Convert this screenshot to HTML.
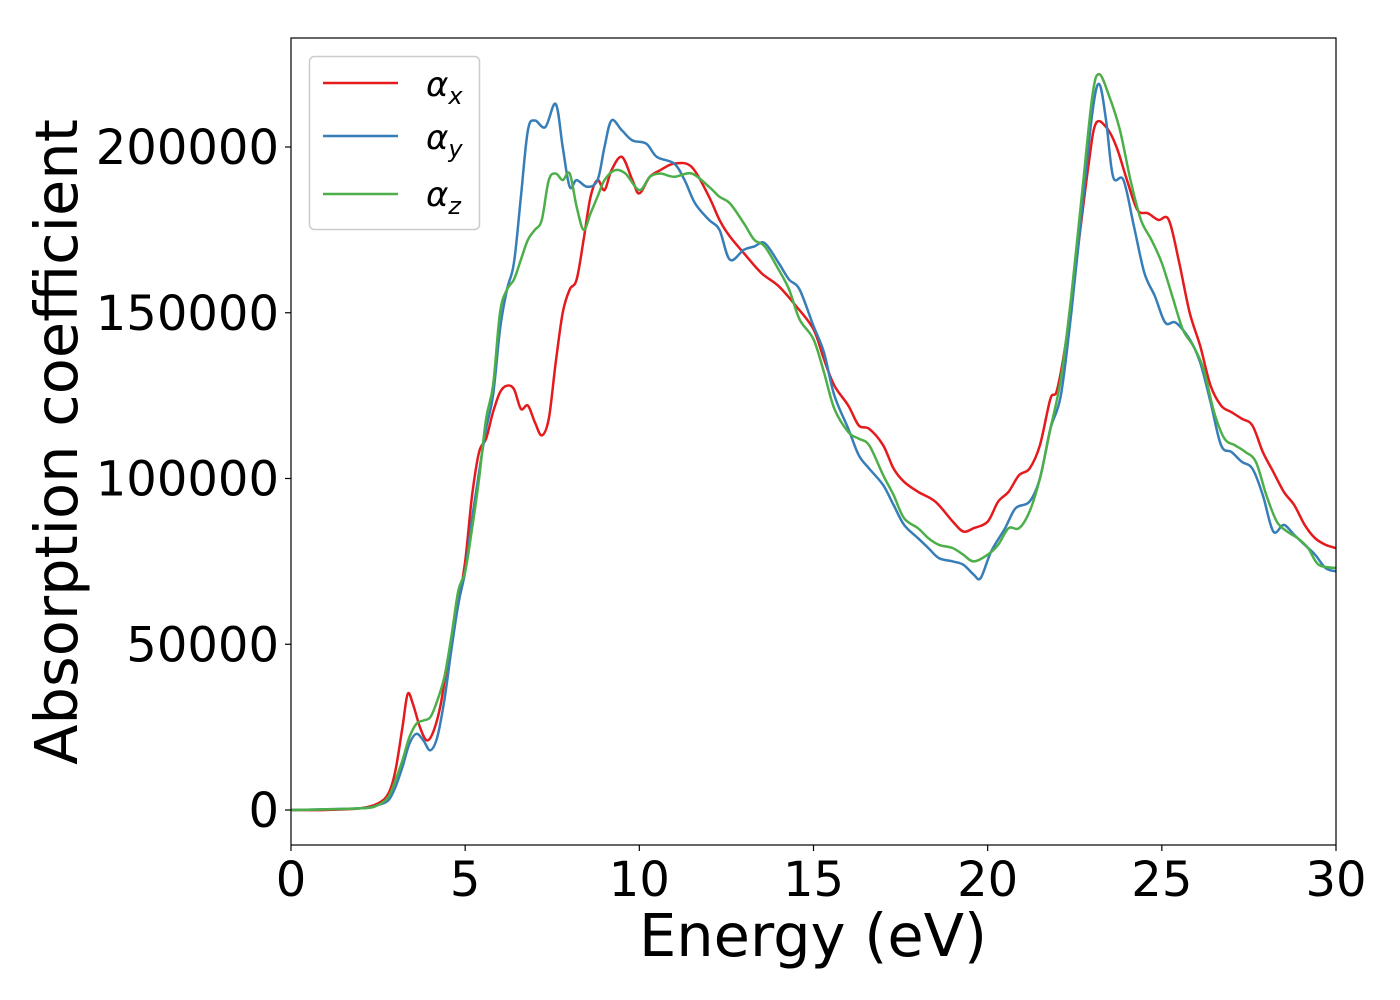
<!DOCTYPE html>
<html><head><meta charset="utf-8"><style>
html,body{margin:0;padding:0;background:#fff;}
svg{display:block;font-family:"DejaVu Sans","Liberation Sans",sans-serif;}
</style></head><body>
<svg id="chart" width="1400" height="1000" viewBox="0 0 1400 1000">
<rect x="0" y="0" width="1400" height="1000" fill="#fff"/>
<g id="plot"></g>
<g id="axes"></g>
<text x="813" y="956" font-size="59" text-anchor="middle" fill="#000">Energy (eV)</text>
<text x="0" y="0" font-size="59" text-anchor="middle" fill="#000" transform="translate(77,442) rotate(-90)">Absorption coefficient</text>
<g>
<rect x="309.5" y="56.5" width="170" height="173" rx="5" fill="#fff" fill-opacity="0.8" stroke="#ccc" stroke-width="1.5"/>
<line x1="323" y1="83" x2="398" y2="83" stroke="#e41a1c" stroke-width="2.5"/>
<text x="426" y="96" font-size="34" font-style="italic">α<tspan font-size="24" dy="8">x</tspan></text>
<line x1="323" y1="136" x2="398" y2="136" stroke="#377eb8" stroke-width="2.5"/>
<text x="426" y="149" font-size="34" font-style="italic">α<tspan font-size="24" dy="8">y</tspan></text>
<line x1="323" y1="194" x2="398" y2="194" stroke="#4daf4a" stroke-width="2.5"/>
<text x="426" y="206" font-size="34" font-style="italic">α<tspan font-size="24" dy="8">z</tspan></text>
</g>
</svg>
<script>
const xTicks=[0,5,10,15,20,25,30];
const yTicks=[0,50000,100000,150000,200000];
const xE=[0,1,2,2.5,2.8,3.0,3.2,3.35,3.5,3.7,3.9,4.1,4.3,4.5,4.8,5.0,5.2,5.4,5.6,5.8,6.0,6.2,6.4,6.6,6.8,7.0,7.2,7.4,7.6,7.8,8.0,8.2,8.4,8.6,8.8,9.0,9.2,9.5,9.8,10,10.3,10.6,11,11.5,12,12.3,12.6,13,13.5,14,14.5,15,15.3,15.6,16,16.3,16.6,17,17.3,17.6,18,18.5,19,19.3,19.6,20,20.3,20.6,20.9,21.2,21.5,21.8,22.0,22.3,22.6,22.9,23.1,23.4,23.7,24.0,24.3,24.6,24.9,25.2,25.5,25.8,26.1,26.4,26.7,27,27.3,27.6,27.9,28.2,28.5,28.8,29.1,29.4,29.7,30];
const xV=[0,0,0.5,2,5,12,25,35,32,25,21,24,32,45,62,75,95,108,112,120,126,128,127,121,122,117,113,118,135,150,157,160,172,185,190,187,193,197,190,186,191,193,195,194,185,178,173,168,162,158,152,145,136,128,122,116,115,110,103,99,96,93,87,84,85,87,93,96,101,103,110,124,127,145,170,195,207,206,200,190,181,180,178,178,165,150,140,128,122,120,118,116,108,102,96,92,86,82,80,79];
const yE=[0,2,2.5,2.8,3.0,3.2,3.4,3.6,3.8,4.0,4.2,4.4,4.6,4.8,5.0,5.2,5.4,5.6,5.8,6.0,6.2,6.4,6.6,6.8,7.0,7.3,7.6,7.8,8.0,8.2,8.5,8.8,9.0,9.2,9.5,9.8,10.2,10.5,11,11.3,11.6,12,12.3,12.6,13,13.3,13.6,14,14.3,14.6,15,15.3,15.6,16,16.3,16.6,17,17.3,17.6,18,18.3,18.6,19,19.3,19.6,19.8,20.1,20.5,20.8,21.2,21.5,21.8,22.1,22.4,22.7,23.0,23.2,23.4,23.6,23.9,24.2,24.5,24.8,25.1,25.4,25.8,26.1,26.4,26.7,27,27.3,27.6,27.9,28.2,28.5,28.8,29.1,29.4,29.7,30];
const yV=[0,0.5,1.5,3,7,13,20,23,21,18,22,33,48,62,72,88,102,115,125,145,157,165,185,205,208,206,213,200,188,190,188,190,200,208,205,202,201,197,195,190,183,178,175,166,169,170,171,165,160,157,146,138,125,115,107,103,98,92,86,82,79,76,75,74,71,70,78,85,91,93,100,115,125,150,180,210,219,208,191,190,176,162,155,147,147,142,135,123,110,108,105,103,95,84,86,83,80,77,73,72];
const zE=[0,2,2.5,2.8,3.0,3.2,3.4,3.6,3.8,4.0,4.2,4.4,4.6,4.8,5.0,5.2,5.4,5.6,5.8,6.0,6.2,6.4,6.6,6.8,7.0,7.2,7.4,7.6,7.8,8.0,8.2,8.4,8.6,8.8,9.0,9.3,9.6,10,10.3,10.6,11,11.5,12,12.3,12.6,13,13.3,13.6,14,14.3,14.6,15,15.3,15.6,16,16.3,16.6,17,17.3,17.6,18,18.3,18.6,19,19.3,19.6,20,20.3,20.6,20.9,21.2,21.5,21.8,22.1,22.4,22.7,23.0,23.2,23.5,23.8,24.1,24.4,24.7,25.0,25.3,25.6,25.9,26.2,26.5,26.8,27.1,27.4,27.7,28.0,28.3,28.6,28.9,29.2,29.5,30];
const zV=[0,0.5,1.5,4,9,15,22,26,27,28,33,40,52,66,72,85,100,118,128,150,157,160,166,172,175,178,190,192,190,192,182,175,180,185,190,193,192,187,191,192,191,192,188,185,183,177,172,170,163,157,148,142,132,121,114,112,110,101,95,88,85,82,80,79,77,75,77,80,85,85,90,100,115,130,155,185,215,222,215,205,190,178,172,165,155,145,140,133,120,112,110,108,105,95,87,84,82,79,74,73];
const L=291,R=1336,T=38,B=845,Y0=810,Y200=147;
const sx=v=>L+(v-0)/30*(R-L);
const sy=v=>Y0+(v/200000)*(Y200-Y0);
const NS="http://www.w3.org/2000/svg";
const plot=document.getElementById('plot'),axes=document.getElementById('axes');
function pathFor(E,V){
  const p=E.map((e,i)=>[sx(e),sy(V[i]*1000)]);
  let d='M'+p[0][0].toFixed(1)+','+p[0][1].toFixed(1);
  for(let i=0;i<p.length-1;i++){
    const p0=p[i-1]||p[i],p1=p[i],p2=p[i+1],p3=p[i+2]||p2;
    const c1=[p1[0]+(p2[0]-p0[0])/6,p1[1]+(p2[1]-p0[1])/6];
    const c2=[p2[0]-(p3[0]-p1[0])/6,p2[1]-(p3[1]-p1[1])/6];
    d+='C'+c1[0].toFixed(1)+','+c1[1].toFixed(1)+' '+c2[0].toFixed(1)+','+c2[1].toFixed(1)+' '+p2[0].toFixed(1)+','+p2[1].toFixed(1);
  }
  return d;
}
const series=[[xE,xV,'#e41a1c','series-alpha-x'],[yE,yV,'#377eb8','series-alpha-y'],[zE,zV,'#4daf4a','series-alpha-z']];
series.forEach(s=>{
  const p=document.createElementNS(NS,'path');
  p.setAttribute('d',pathFor(s[0],s[1]));
  p.setAttribute('fill','none');p.setAttribute('stroke',s[2]);p.setAttribute('stroke-width','2.5');
  
  
  plot.appendChild(p);
});
const frame=document.createElementNS(NS,'rect');
frame.setAttribute('x',L);frame.setAttribute('y',T);frame.setAttribute('width',R-L);frame.setAttribute('height',B-T);
frame.setAttribute('fill','none');frame.setAttribute('stroke','#000');frame.setAttribute('stroke-width','1.2');


axes.appendChild(frame);
xTicks.forEach(t=>{
  const x=sx(t);
  const l=document.createElementNS(NS,'line');
  l.setAttribute('x1',x);l.setAttribute('x2',x);l.setAttribute('y1',B);l.setAttribute('y2',B+6);l.setAttribute('stroke','#000');l.setAttribute('stroke-width','1.2');
  
  
  axes.appendChild(l);
  const tx=document.createElementNS(NS,'text');
  tx.setAttribute('x',x);tx.setAttribute('y',896);tx.setAttribute('font-size','48');tx.setAttribute('text-anchor','middle');
  tx.textContent=String(t);
  
  
  axes.appendChild(tx);
});
yTicks.forEach(t=>{
  const y=sy(t);
  const l=document.createElementNS(NS,'line');
  l.setAttribute('x1',L-6);l.setAttribute('x2',L);l.setAttribute('y1',y);l.setAttribute('y2',y);l.setAttribute('stroke','#000');l.setAttribute('stroke-width','1.2');
  
  
  axes.appendChild(l);
  const tx=document.createElementNS(NS,'text');
  tx.setAttribute('x',279);tx.setAttribute('y',y+17);tx.setAttribute('font-size','48');tx.setAttribute('text-anchor','end');
  tx.textContent=String(t);
  
  
  axes.appendChild(tx);
});
</script>
</body></html>
